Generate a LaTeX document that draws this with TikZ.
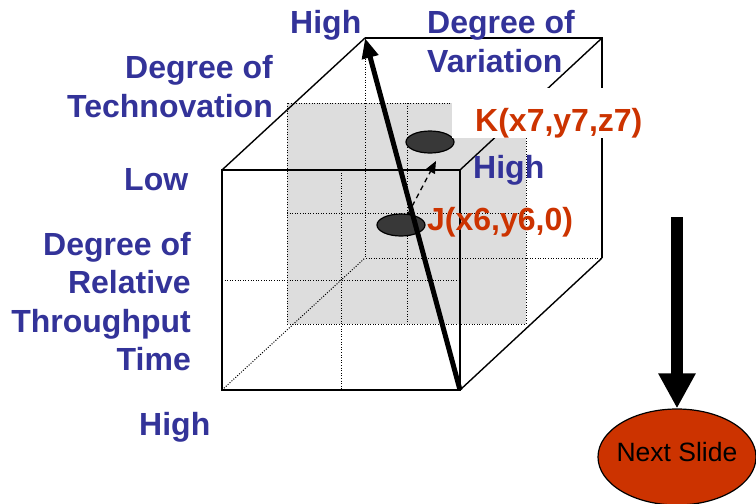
\documentclass[tikz,border=0pt]{standalone}
\usepackage{fontspec}
\setmainfont{Liberation Sans}
\usetikzlibrary{arrows.meta,shapes.geometric}
\definecolor{lblblue}{HTML}{333399}
\definecolor{lblred}{HTML}{CC3300}
\definecolor{planegray}{HTML}{DDDDDD}
\definecolor{dotfill}{HTML}{383838}
\begin{document}
\begin{tikzpicture}[x=1pt,y=-1pt,
  edge/.style={line width=1.4pt},
  hidden/.style={line width=1pt, dash pattern=on 1pt off 1.6pt},
  bl/.style={font=\fontsize{32}{39}\selectfont\bfseries, text=lblblue, inner sep=0pt},
  rl/.style={font=\fontsize{32}{39}\selectfont\bfseries, text=lblred, inner sep=0pt},
  pointmark/.style={ellipse, draw, line width=1.2pt, fill=dotfill, minimum width=48pt, minimum height=22pt, inner sep=0pt}
]
\useasboundingbox (0,0) rectangle (756,504);
% cube corners
\coordinate (FTL) at (222,170);
\coordinate (FTR) at (460,170);
\coordinate (FBR) at (460,390);
\coordinate (FBL) at (222,390);
\coordinate (BTL) at (365,38);
\coordinate (BTR) at (602,38);
\coordinate (BBR) at (602,258);
\coordinate (BBL) at (365,258);
% mid-depth gray plane
\fill[planegray] (287,103) rectangle (526,324);
\draw[hidden] (287,103) rectangle (526,324);
\draw[hidden] (407,103) -- (407,324);
\draw[hidden] (287,213) -- (526,213);
% front face grid
\draw[hidden] (341,170) -- (341,390);
\draw[hidden] (222,280) -- (460,280);
% hidden back edges
\draw[hidden] (BTL) -- (BBL) -- (BBR);
\draw[hidden] (FBL) -- (BBL);
% visible cube edges
\draw[edge] (FTL) rectangle (FBR);
\draw[edge] (BTL) -- (BTR) -- (BBR);
\draw[edge] (FTL) -- (BTL);
\draw[edge] (FTR) -- (BTR);
\draw[edge] (FBR) -- (BBR);
% points
\node[pointmark] (K) at (430,142) {};
\node[pointmark] (J) at (401,225) {};
\coordinate (jtop) at (408,214);
\coordinate (ktip) at (436,161);
\draw[line width=1.3pt, dash pattern=on 5pt off 4pt, -{Triangle[length=12pt,width=10pt]}] (jtop) -- (ktip);
% main diagonal arrow
\draw[line width=5pt, -{Triangle[length=20pt,width=16pt]}] (FBR) -- (BTL);
% white box behind K label
\fill[white] (452,88) rectangle (645,138);
% labels
\node[bl, anchor=base west] (hightop) at (290,33) {High};
\node[bl, anchor=base west] (var1) at (427,33) {Degree of};
\node[bl, anchor=base west] (var2) at (427,72) {Variation};
\node[bl, anchor=base east] (tech1) at (273,78) {Degree of};
\node[bl, anchor=base east] (tech2) at (273,117) {Technovation};
\node[bl, anchor=base west] (low) at (124,190) {Low};
\node[bl, anchor=base east] (rt1) at (191,255) {Degree of};
\node[bl, anchor=base east] (rt2) at (191,293) {Relative};
\node[bl, anchor=base east] (rt3) at (191,332) {Throughput};
\node[bl, anchor=base east] (rt4) at (191,370) {Time};
\node[bl, anchor=base west] (highbot) at (139,435) {High};
\node[bl, anchor=base west] (highright) at (473,178) {High};
\node[rl, anchor=base west] (klbl) at (475,131) {K(x7,y7,z7)};
\node[rl, anchor=base west] (jlbl) at (427,230) {J(x6,y6,0)};
% next slide
\node[ellipse, draw, fill=lblred, line width=1.2pt, minimum width=158pt, minimum height=96pt, inner sep=0pt,
  label={[font=\fontsize{26.5}{30}\selectfont, inner sep=0pt, yshift=5pt]center:Next Slide}] (next) at (677,457) {};
\coordinate (ntop) at (677,217);
\draw[line width=12pt, -{Triangle[length=35pt,width=35pt]}] (ntop) -- (next.north);
\end{tikzpicture}
\end{document}
